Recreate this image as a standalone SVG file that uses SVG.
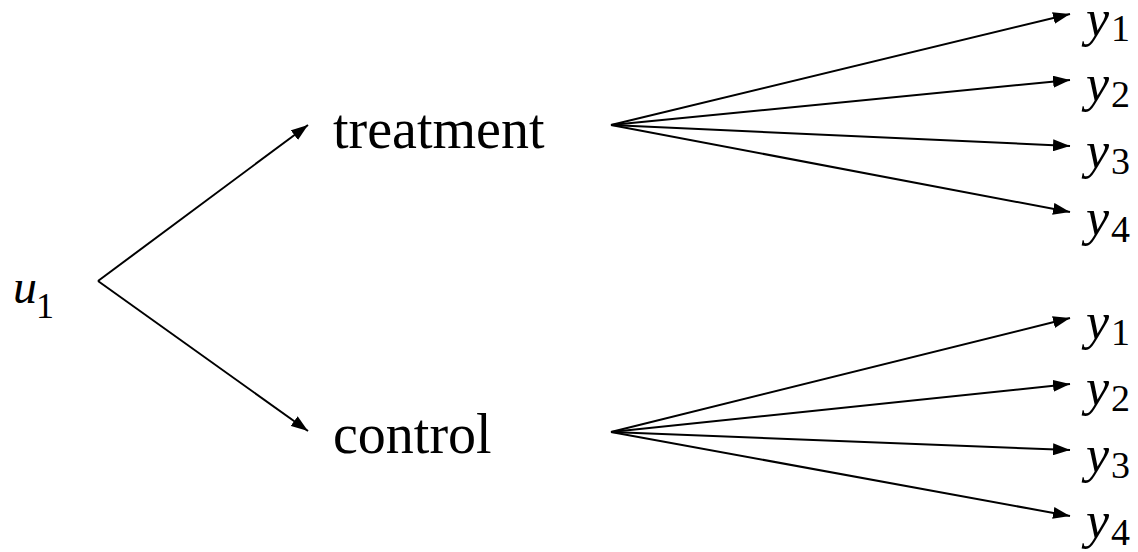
<svg xmlns="http://www.w3.org/2000/svg" width="1138" height="552" viewBox="0 0 1138 552">
  <style>
    .edge { stroke: #000; stroke-width: 2; fill: none; marker-end: url(#arrow); }
    .word { font-family: 'Liberation Serif', Tinos, 'Times New Roman', serif; font-size: 56px; fill: #000; }
    .var { font-family: 'Liberation Serif', Tinos, 'Times New Roman', serif; font-style: italic; fill: #000; }
    .sub { font-family: 'Liberation Serif', Tinos, 'Times New Roman', serif; fill: #000; }
  </style>
  <defs>
    <marker id="arrow" viewBox="0 0 10 10" refX="10" refY="5" markerWidth="8.5" markerHeight="6" markerUnits="strokeWidth" orient="auto" preserveAspectRatio="none">
      <path d="M0,0 L10,5 L0,10 z" fill="#000"/>
    </marker>
  </defs>
  <rect width="1138" height="552" fill="#fff"/>

  <!-- connectors -->
  <g id="connectors">
    <line class="edge" x1="98" y1="281" x2="308" y2="125"/>
    <line class="edge" x1="98" y1="281" x2="308" y2="431"/>
    <line class="edge" x1="611" y1="125" x2="1070" y2="14"/>
    <line class="edge" x1="611" y1="125" x2="1070" y2="80"/>
    <line class="edge" x1="611" y1="125" x2="1070" y2="146"/>
    <line class="edge" x1="611" y1="125" x2="1070" y2="212"/>
    <line class="edge" x1="611" y1="432" x2="1070" y2="318"/>
    <line class="edge" x1="611" y1="432" x2="1070" y2="384"/>
    <line class="edge" x1="611" y1="432" x2="1070" y2="450"/>
    <line class="edge" x1="611" y1="432" x2="1070" y2="516"/>
  </g>

  <!-- nodes -->
  <g id="u1">
    <text class="var" x="13" y="303" font-size="48">u</text>
    <text class="sub" x="36" y="318" font-size="36">1</text>
  </g>
  <g id="treatment">
    <text class="word" x="333" y="148">treatment</text>
  </g>
  <g id="control">
    <text class="word" x="333" y="453">control</text>
  </g>

  <g id="t-y1"><text class="var" x="1086" y="36" font-size="52">y</text><text class="sub" x="1111" y="41" font-size="38">1</text></g>
  <g id="t-y2"><text class="var" x="1086" y="101" font-size="52">y</text><text class="sub" x="1111" y="107" font-size="38">2</text></g>
  <g id="t-y3"><text class="var" x="1086" y="168" font-size="52">y</text><text class="sub" x="1111" y="174" font-size="38">3</text></g>
  <g id="t-y4"><text class="var" x="1086" y="235" font-size="52">y</text><text class="sub" x="1111" y="242" font-size="38">4</text></g>

  <g id="c-y1"><text class="var" x="1086" y="339" font-size="52">y</text><text class="sub" x="1111" y="345" font-size="38">1</text></g>
  <g id="c-y2"><text class="var" x="1086" y="405" font-size="52">y</text><text class="sub" x="1111" y="411" font-size="38">2</text></g>
  <g id="c-y3"><text class="var" x="1086" y="472" font-size="52">y</text><text class="sub" x="1111" y="478" font-size="38">3</text></g>
  <g id="c-y4"><text class="var" x="1086" y="538" font-size="52">y</text><text class="sub" x="1111" y="545" font-size="38">4</text></g>
</svg>
